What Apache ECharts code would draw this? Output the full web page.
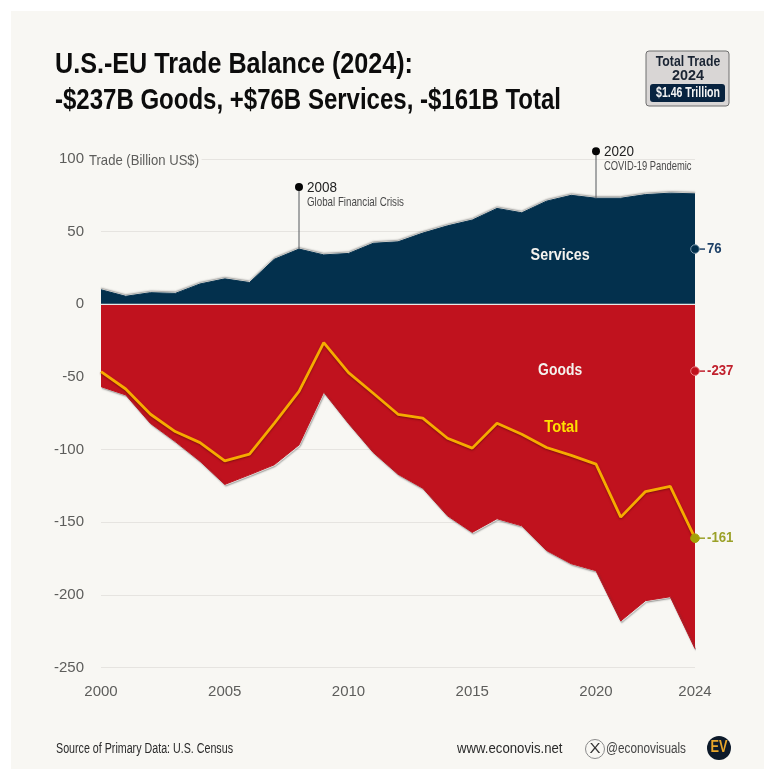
<!DOCTYPE html>
<html>
<head>
<meta charset="utf-8">
<style>html,body{margin:0;padding:0;background:#fff}#chart{width:764px;height:769px}</style>
<script src="https://cdn.jsdelivr.net/npm/echarts@6/dist/echarts.min.js"></script>
</head>
<body>
<div id="chart"></div>
<script>
// U.S.-EU trade balance, billion US$
const years = [2000,2001,2002,2003,2004,2005,2006,2007,2008,2009,2010,2011,2012,2013,2014,2015,2016,2017,2018,2019,2020,2021,2022,2023,2024];
const services = [10,5.5,8,7.5,14,17.5,15,31,38,34,35,42,43,49,54,58,66,63,71,75,73,73,75.5,76.5,76];
const goods = [-56.7,-62.4,-82,-94.5,-108,-124,-117.4,-110.5,-96.8,-60.5,-82,-102,-117,-126.6,-145.6,-157,-147.6,-152.5,-169.5,-178.6,-183.4,-218,-204,-201.3,-237];
const total = [-46.3,-58.3,-75.7,-87.6,-95.2,-107.8,-103.2,-81.9,-60,-26.4,-47,-61.2,-75.7,-78.4,-92.2,-99,-81.9,-89.4,-98.6,-104,-110,-146.5,-128.9,-125.4,-161];
const yTicks = {min:-250, max:100, step:50};

// Event pins: year, height of the dot, height of the foot, heading, caption
const events = [
  [2008, 80.7, 38, '2008', 'Global Financial Crisis'],
  [2020, 105.4, 73, '2020', 'COVID-19 Pandemic']
];
// End-of-series callouts: anchor height, text, fill, ring, text colour
const callouts = [
  [38, '76', '#03304d', '#7f9bad', '#1c3f66'],
  [-46, '-237', '#c0121e', '#ea7d85', '#c1212d'],
  [-161, '-161', '#a3a107', '#a3a107', '#9ba128']
];
// Names written inside the areas: year position, height, text, colour, drawn width
const areaNames = [
  [2018.55, 33.4, 'Services', '#f4f2ee', 59],
  [2018.55, -45.5, 'Goods', '#f4f2ee', 44],
  [2018.6, -84.9, 'Total', '#ffe000', 34]
];

const FACE = '"Liberation Sans",sans-serif';
const PANEL = '#f8f7f3';
const pairs = arr => years.map((y, i) => [y, arr[i]]);

// The typeface is wider than the one wanted, so text is squeezed horizontally to a set width
const ruler = document.createElement('canvas').getContext('2d');
function squeeze(text, font, width) {
  ruler.font = font;
  return width / ruler.measureText(text).width;
}
function label(text, x, y, font, width, fill, extra) {
  const e = extra || {};
  return {
    type:'text', z:e.z || 11, x:x, y:y, scaleX:squeeze(text, font, width),
    style:Object.assign({text:text, verticalAlign:'middle', align:e.align || 'left', fill:fill, font:font}, e.style || {})
  };
}

const chart = echarts.init(document.getElementById('chart'), null, {renderer:'canvas'});
chart.setOption({
  animation:false,
  backgroundColor:'#ffffff',
  grid:{left:101, right:69, top:159, bottom:101.5},
  xAxis:{
    type:'value', min:2000, max:2024, interval:5,
    axisLine:{show:false}, axisTick:{show:false}, splitLine:{show:false},
    axisLabel:{formatter:v=>String(v), color:'#5d5d5b', fontFamily:FACE, fontSize:15, margin:17}
  },
  yAxis:{
    type:'value', min:yTicks.min, max:yTicks.max, interval:yTicks.step,
    axisLine:{show:false}, axisTick:{show:false},
    splitLine:{lineStyle:{color:'#e6e4e0', width:1}},
    axisLabel:{color:'#5d5d5b', fontFamily:FACE, fontSize:15, margin:17, padding:[3,0,0,0]}
  },
  graphic:{elements:[
    {type:'rect', z:-10, zlevel:-1, shape:{x:11,y:11,width:753,height:758}, style:{fill:PANEL}},
    label('U.S.-EU Trade Balance (2024):', 55, 64.5, 'bold 30px '+FACE, 358, '#0c0c0c'),
    label('-$237B Goods, +$76B Services, -$161B Total', 55, 100.5, 'bold 30px '+FACE, 506, '#0c0c0c'),
    label('Trade (Billion US$)', 89, 161, '15px '+FACE, 110, '#5d5d5b', {z:3, style:{backgroundColor:PANEL, padding:[2,3,2,0]}}),
    // Total-trade badge
    {type:'rect', z:10, shape:{x:646,y:51,width:83,height:55,r:3}, style:{fill:'#d9d6d5', stroke:'#6f6f6f', lineWidth:1}},
    label('Total Trade', 688, 62, 'bold 15px '+FACE, 64.5, '#1a2433', {align:'center'}),
    label('2024', 688, 76, 'bold 15px '+FACE, 32, '#1a2433', {align:'center'}),
    {type:'rect', z:11, shape:{x:650,y:84,width:75,height:18,r:3}, style:{fill:'#08233f'}},
    label('$1.46 Trillion', 688, 93, 'bold 14px '+FACE, 64, '#f3f3f3', {z:12, align:'center'}),
    // Footer
    label('Source of Primary Data: U.S. Census', 56, 749, '14px '+FACE, 177, '#2a2a2a'),
    label('www.econovis.net', 457, 749, '15px '+FACE, 105.5, '#2a2a2a'),
    {type:'circle', z:10, shape:{cx:595,cy:749,r:9.5}, style:{fill:'none', stroke:'#8a8a8a', lineWidth:1}},
    label('X', 595, 749, '15px '+FACE, 11, '#333', {align:'center'}),
    label('@econovisuals', 606, 749, '14px '+FACE, 80, '#444'),
    {type:'circle', z:10, shape:{cx:719,cy:748,r:12}, style:{fill:'#0d1a2a'}},
    label('EV', 719, 748, 'bold 16px '+FACE, 17, '#e8a62b', {align:'center'})
  ]},
  series:[
    // Each area's outer edge casts a thin grey shadow away from the zero line
    {name:'Goods', type:'line', data:pairs(goods), symbol:'none', z:2,
     lineStyle:{color:'#c0121e', width:1, shadowColor:'rgba(70,70,70,0.75)', shadowBlur:1.5, shadowOffsetX:1, shadowOffsetY:1.5},
     areaStyle:{color:'#c0121e', opacity:1}},
    {name:'Services', type:'line', data:pairs(services), symbol:'none', z:2,
     lineStyle:{color:'#03304d', width:1, shadowColor:'rgba(70,70,70,0.65)', shadowBlur:1.5, shadowOffsetY:-1.5},
     areaStyle:{color:'#03304d', opacity:1}},
    {name:'Zero', type:'line', data:[[years[0],0],[years[years.length-1],0]], symbol:'none', z:3,
     lineStyle:{color:'#e9e7e6', width:1.2}},
    {name:'Total', type:'line', data:pairs(total), symbol:'none', z:4,
     lineStyle:{color:'#f6ab00', width:2.8, shadowColor:'rgba(70,10,0,0.5)', shadowBlur:2, shadowOffsetY:1}},
    {name:'Events', type:'custom', z:5, clip:false, data:events,
     renderItem:(p, api) => {
       const top = api.coord([api.value(0), api.value(1)]);
       const foot = api.coord([api.value(0), api.value(2)]);
       const e = events[p.dataIndex];
       return {type:'group', children:[
         {type:'line', shape:{x1:top[0],y1:top[1],x2:foot[0],y2:foot[1]}, style:{stroke:'#55595c', lineWidth:1}},
         {type:'circle', shape:{cx:top[0],cy:top[1],r:4}, style:{fill:'#050505'}},
         {type:'text', x:top[0]+8, y:top[1]+1, scaleX:squeeze(e[3],'15px '+FACE,30),
          style:{text:e[3], verticalAlign:'middle', fill:'#222', font:'15px '+FACE}},
         {type:'text', x:top[0]+8, y:top[1]+15.5, scaleX:squeeze(e[4],'13px '+FACE,e[4].length>20?97:87.5),
          style:{text:e[4], verticalAlign:'middle', fill:'#4a4a4a', font:'13px '+FACE}}
       ]};
     }},
    {name:'Callouts', type:'custom', z:6, clip:false, data:callouts.map(c=>[c[0]]),
     renderItem:(p, api) => {
       const c = callouts[p.dataIndex];
       const pt = api.coord([years[years.length-1], c[0]]);
       return {type:'group', children:[
         {type:'line', shape:{x1:pt[0],y1:pt[1],x2:pt[0]+10,y2:pt[1]}, style:{stroke:c[4], lineWidth:1.5}},
         {type:'circle', shape:{cx:pt[0],cy:pt[1],r:4.3}, style:{fill:c[2], stroke:c[3], lineWidth:1}},
         {type:'text', x:pt[0]+12, y:pt[1], scaleX:0.88, style:{text:c[1], verticalAlign:'middle', fill:c[4], font:'bold 15px '+FACE}}
       ]};
     }},
    {name:'AreaNames', type:'custom', z:6, clip:false, data:areaNames.map(a=>[a[0],a[1]]),
     renderItem:(p, api) => {
       const a = areaNames[p.dataIndex];
       const pt = api.coord([a[0], a[1]]);
       return {type:'text', x:pt[0], y:pt[1], scaleX:squeeze(a[2],'bold 16px '+FACE,a[4]),
         style:{text:a[2], align:'center', verticalAlign:'middle', fill:a[3], font:'bold 16px '+FACE}};
     }}
  ]
});
</script>
</body>
</html>
